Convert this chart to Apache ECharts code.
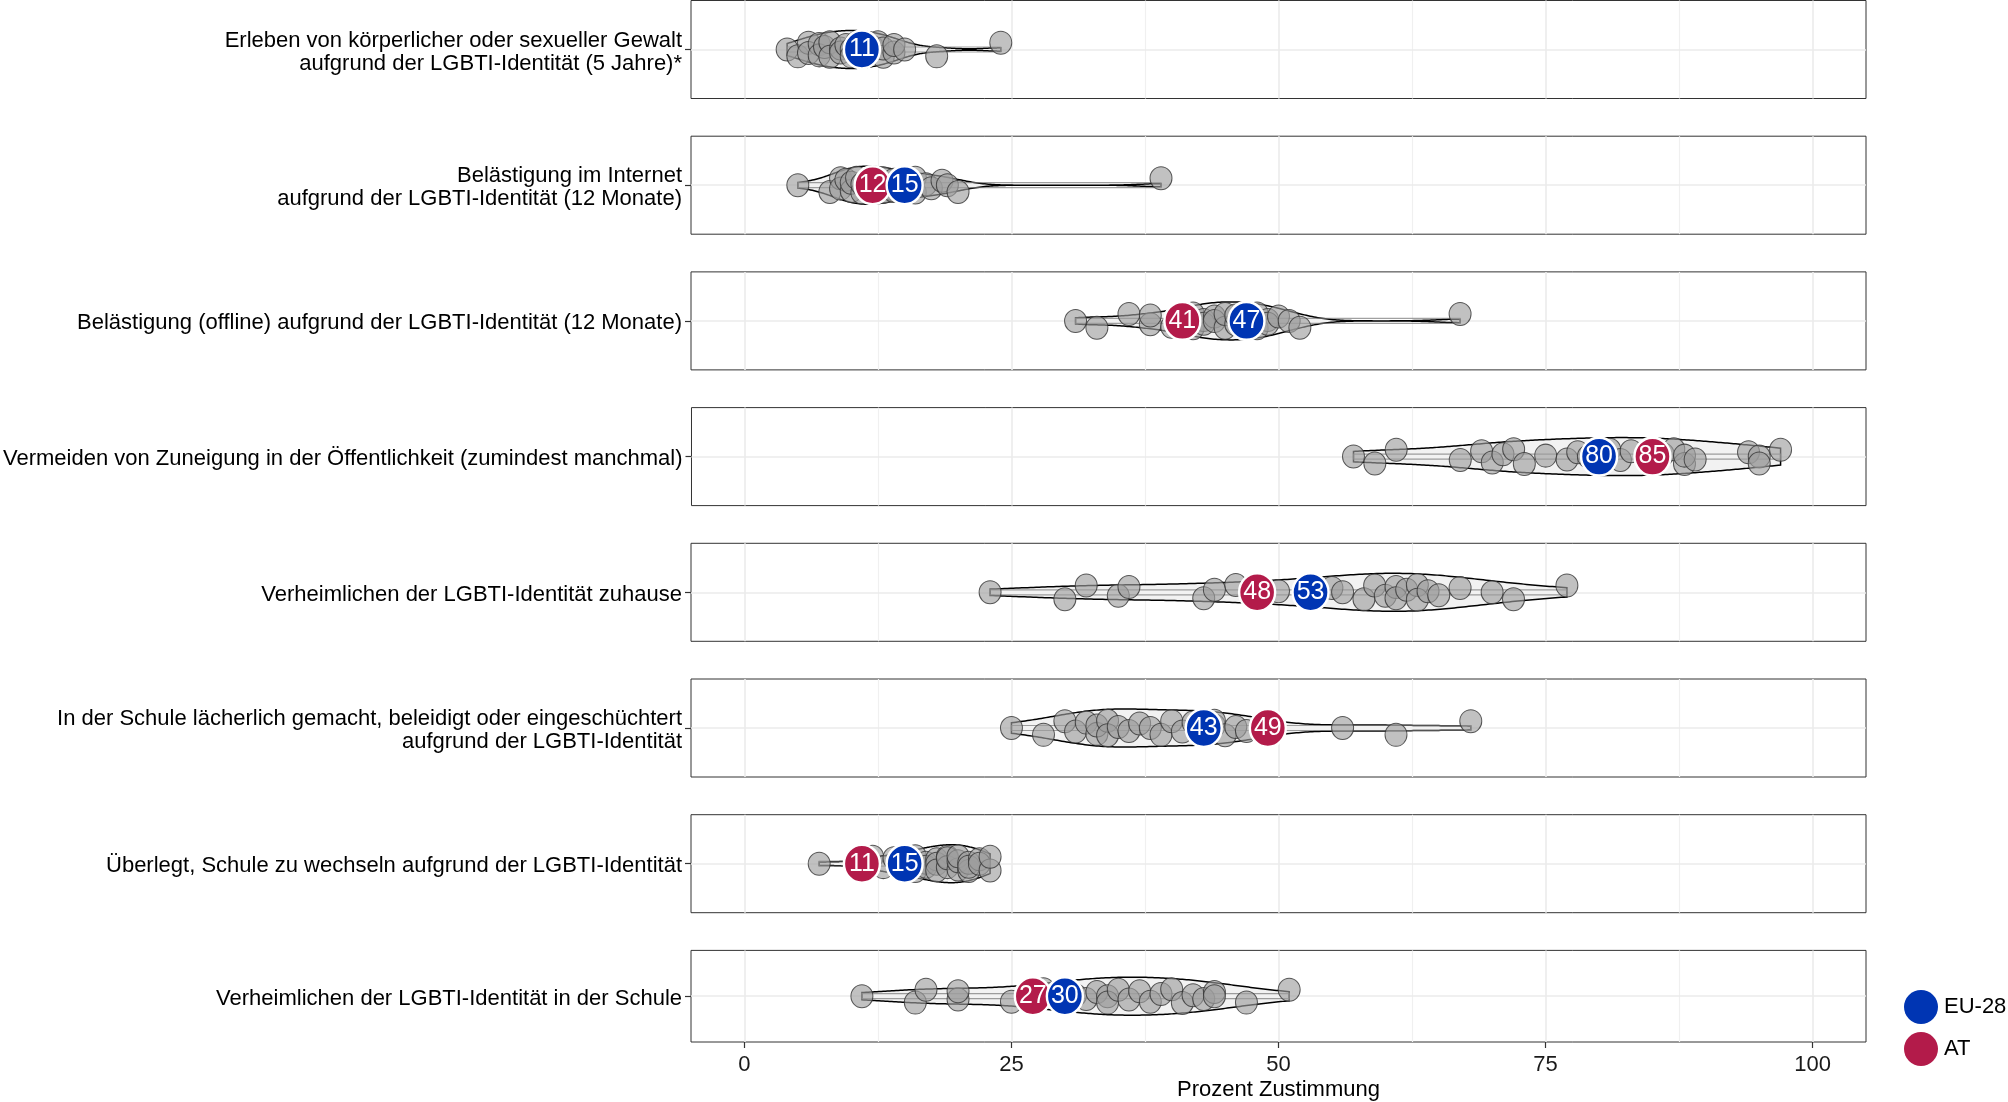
<!DOCTYPE html>
<html>
<head>
<meta charset="utf-8">
<script src="https://cdn.jsdelivr.net/npm/echarts@6/dist/echarts.min.js"></script>
<style>
html,body{margin:0;padding:0;background:#fff;}
#chart{width:2008px;height:1102px;}
</style>
</head>
<body>
<div id="chart"></div>
<script>
// ---------- DATA ----------
const categories = [
  "Erleben von körperlicher oder sexueller Gewalt\naufgrund der LGBTI-Identität (5 Jahre)*",
  "Belästigung im Internet\naufgrund der LGBTI-Identität (12 Monate)",
  "Belästigung (offline) aufgrund der LGBTI-Identität (12 Monate)",
  "Vermeiden von Zuneigung in der Öffentlichkeit (zumindest manchmal)",
  "Verheimlichen der LGBTI-Identität zuhause",
  "In der Schule lächerlich gemacht, beleidigt oder eingeschüchtert\naufgrund der LGBTI-Identität",
  "Überlegt, Schule zu wechseln aufgrund der LGBTI-Identität",
  "Verheimlichen der LGBTI-Identität in der Schule"
];
const countriesGewalt    = [4,5,6,6,7,7,7.5,8,8,9,9,9.5,10,10,10.5,11,11,11.5,12,12.5,13,13,14,14,15,18,24];
const countriesInternet  = [5,8,9,9,9.5,10,10,10.5,11,11,11.5,12,12,13,13,13.5,14,14,15,16,16,17,17.5,18.5,19,20,39];
const countriesOffline   = [31,33,36,38,38,40,41,42,42,43,43,44,44,45,45,46,46,47,47,48,48,49,49,50,51,52,67];
const countriesZuneigung = [57,59,61,67,69,70,71,72,73,75,77,78,79,80,81,82,83,85,86,87,88,88,89,94,95,95,97];
const countriesZuhause   = [23,30,32,35,36,43,44,46,48,50,53,55,56,58,59,60,61,61,62,63,63,64,65,67,70,72,77];
const countriesSpott     = [25,28,30,31,32,33,33,34,34,35,36,37,38,39,40,41,42,43,44,44,45,46,47,49,56,61,68];
const countriesWechsel   = [7,11,12,13,14,15,15,16,16,17,17,18,18,18,19,19,19,20,20,20,21,21,21,22,22,23,23];
const countriesSchule    = [11,16,17,20,20,25,27,28,30,31,32,33,34,34,35,36,37,38,39,40,41,42,43,44,44,47,51];
const countryValues = [countriesGewalt, countriesInternet, countriesOffline, countriesZuneigung,
                       countriesZuhause, countriesSpott, countriesWechsel, countriesSchule];
const eu28Values = [11, 15, 47, 80, 53, 43, 15, 30];
const atValues   = [null, 12, 41, 85, 48, 49, 11, 27];
const xTicks = [0, 25, 50, 75, 100];
const xMinorTicks = [12.5, 37.5, 62.5, 87.5];
const legendNames = ["EU-28", "AT"];
const axisTitle = "Prozent Zustimmung";

// ---------- STYLE / LAYOUT ----------
const FONT = "'Liberation Sans', Arial, Helvetica, sans-serif";
const BLUE = "#0035b3";
const RED = "#b31b4a";
const GRID_LEFT = 691, GRID_W = 1175, GRID_H = 98, GRID_STEP = 135.7;
const VIOLIN_HALF = 19;
const LABEL_NUDGE = -0.05; // category label sits slightly below the centre line, as in ggplot
const jitterPattern = [0, -0.14, 0.14, -0.07, 0.11, -0.12, 0.05, 0.15, -0.15, 0.02, -0.06, 0.09];

function quantile(sorted, p) {
  const h = (sorted.length - 1) * p, lo = Math.floor(h), hi = Math.ceil(h);
  return sorted[lo] + (sorted[hi] - sorted[lo]) * (h - lo);
}
function kdeFor(vals) {
  const s = vals.slice().sort((a, b) => a - b);
  const n = s.length;
  const mean = s.reduce((a, b) => a + b, 0) / n;
  const sd = Math.sqrt(s.reduce((a, b) => a + (b - mean) * (b - mean), 0) / (n - 1));
  const iqr = quantile(s, 0.75) - quantile(s, 0.25);
  let lo = Math.min(sd, iqr / 1.34);
  if (!(lo > 0)) lo = sd || 1;
  const bw = 0.9 * lo * Math.pow(n, -0.2);
  const min = s[0], max = s[n - 1];
  const N = 200, pts = [];
  let dmax = 0;
  for (let t = 0; t <= N; t++) {
    const x = min + (max - min) * t / N;
    let d = 0;
    for (const v of s) { const z = (x - v) / bw; d += Math.exp(-0.5 * z * z); }
    pts.push([x, d]);
    if (d > dmax) dmax = d;
  }
  return { pts, dmax, min, max };
}

const grids = [], xAxes = [], yAxes = [], series = [];
categories.forEach((cat, i) => {
  const isLast = i === categories.length - 1;
  grids.push({
    left: GRID_LEFT, width: GRID_W, top: 0.5 + i * GRID_STEP, height: GRID_H,
    show: true, borderColor: "#333", borderWidth: 1, backgroundColor: "#fff", containLabel: false
  });
  xAxes.push({
    gridIndex: i, type: "value", min: -5, max: 105, show: isLast, position: "bottom",
    axisLine: { show: false, onZero: false }, splitLine: { show: false },
    axisTick: { show: true, inside: false, length: 6, customValues: xTicks, lineStyle: { color: "#333", width: 1.2 } },
    axisLabel: { show: isLast, customValues: xTicks, fontSize: 22, color: "#1a1a1a", fontFamily: FONT, margin: 12 },
    name: isLast ? axisTitle : "", nameLocation: "middle", nameGap: 37,
    nameTextStyle: { fontSize: 22, color: "#000", fontFamily: FONT }
  });
  yAxes.push({
    gridIndex: i, type: "value", min: -1, max: 1, interval: 1, position: "left",
    axisLine: { show: false, onZero: false }, splitLine: { show: false },
    axisTick: { show: true, inside: false, length: 6, customValues: [0], lineStyle: { color: "#333", width: 1.2 } },
    axisLabel: {
      customValues: [LABEL_NUDGE], formatter: () => cat,
      fontSize: 22, lineHeight: 23, color: "#000", fontFamily: FONT, margin: 9, align: "right"
    }
  });

  // grid lines (behind everything)
  const gl = [];
  xTicks.forEach(v => gl.push({ xAxis: v, lineStyle: { color: "#ebebeb", width: 1.6, type: "solid" } }));
  xMinorTicks.forEach(v => gl.push({ xAxis: v, lineStyle: { color: "#f0f0f0", width: 1.2, type: "solid" } }));
  gl.push({ yAxis: 0, lineStyle: { color: "#ebebeb", width: 1.6, type: "solid" } });
  series.push({
    type: "line", xAxisIndex: i, yAxisIndex: i, data: [], silent: true, z: 1,
    markLine: { z: 1, silent: true, symbol: "none", label: { show: false }, animation: false, data: gl }
  });

  // violin
  const vals = countryValues[i];
  const dens = kdeFor(vals);
  series.push({
    type: "custom", xAxisIndex: i, yAxisIndex: i, z: 2, silent: true,
    data: [[dens.min, 0]],
    renderItem: (params, api) => {
      const top = [], bot = [];
      dens.pts.forEach(([x, d]) => {
        const p = api.coord([x, 0]);
        const hw = d / dens.dmax * VIOLIN_HALF;
        top.push([p[0], p[1] - hw]);
        bot.push([p[0], p[1] + hw]);
      });
      const poly = top.concat(bot.reverse());
      const a = api.coord([dens.min, 0]), b = api.coord([dens.max, 0]);
      return {
        type: "group",
        children: [
          { type: "polygon", shape: { points: poly },
            style: { fill: "#f2f2f2", stroke: "#000", lineWidth: 1.5 } },
          { type: "rect", shape: { x: a[0], y: a[1] - 2.5, width: b[0] - a[0], height: 5 },
            style: { fill: "none", stroke: "rgba(120,120,120,0.7)", lineWidth: 1.2 } }
        ]
      };
    }
  });

  // country points
  series.push({
    type: "scatter", xAxisIndex: i, yAxisIndex: i, z: 3, silent: true,
    symbol: "circle", symbolSize: [22, 23],
    itemStyle: { color: "rgba(158,158,158,0.8)", borderColor: "#333", borderWidth: 1 },
    data: vals.map((v, k) => [v, jitterPattern[k % jitterPattern.length]])
  });

  // AT and EU labels
  const lab = (name, val, color, z) => ({
    name, type: "scatter", xAxisIndex: i, yAxisIndex: i, z, silent: true,
    symbol: "circle", symbolSize: [36, 38],
    itemStyle: { color, borderColor: "#fff", borderWidth: 2.5, opacity: 1 },
    label: { show: true, position: "inside", formatter: (p) => String(p.value[0]),
             color: "#fff", fontSize: 25, fontFamily: FONT },
    data: val == null ? [] : [[val, 0]]
  });
  series.push(lab("AT", atValues[i], RED, 4));
  series.push(lab("EU-28", eu28Values[i], BLUE, 5));
});

const chart = echarts.init(document.getElementById("chart"), null, { renderer: "canvas" });
chart.setOption({
  animation: false,
  backgroundColor: "#fff",
  textStyle: { fontFamily: FONT },
  grid: grids, xAxis: xAxes, yAxis: yAxes, series,
  legend: {
    data: legendNames, orient: "vertical", left: 1899, top: 985,
    itemWidth: 34, itemHeight: 37, itemGap: 8, icon: "circle",
    itemStyle: { borderWidth: 0 },
    textStyle: { fontSize: 22, color: "#000", fontFamily: FONT, padding: [0, 0, 0, 1] },
    selectedMode: false
  }
});
</script>
</body>
</html>
